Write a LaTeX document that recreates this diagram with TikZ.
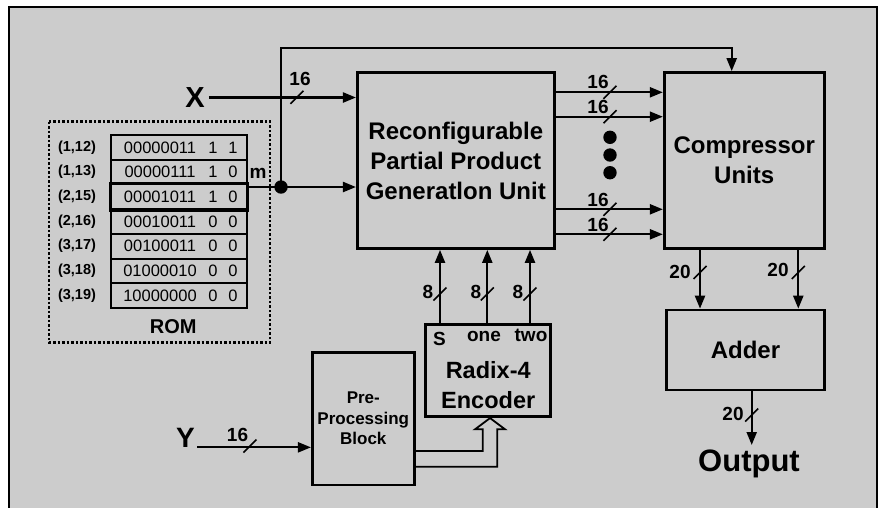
\documentclass[tikz,border=0pt]{standalone}
\usepackage{fontspec}
\setmainfont{Liberation Sans}
\usetikzlibrary{arrows.meta,calc}
\definecolor{bgray}{HTML}{CCCCCC}
\begin{document}
\begin{tikzpicture}[x=1pt,y=-1pt,
  wire/.style={line width=2.2pt},
  arr/.style={wire,-{Triangle[length=13pt,width=10pt]}},
  slashmark/.style={line width=1.6pt},
  box/.style={draw,line width=2.7pt,inner sep=0pt,align=center,
    font=\bfseries\fontsize{24}{30}\selectfont},
  buslbl/.style={inner sep=0pt,anchor=base,font=\bfseries\fontsize{19}{19}\selectfont},
  rowbox/.style={draw,line width=2pt,minimum width=136pt,minimum height=24.7pt,inner sep=0pt},
  rowlbl/.style={inner sep=0pt,font=\bfseries\fontsize{14.5}{14.5}\selectfont},
  bintxt/.style={inner sep=0pt,font=\fontsize{16.5}{16.5}\selectfont},
  bigdot/.style={circle,fill=black,inner sep=0pt,minimum size=13.4pt},
  hollow/.style={line width=1.8pt,line join=miter}
]
\useasboundingbox (0,0) rectangle (880,507);
\fill[white] (0,0) rectangle (880,507);
\draw[line width=2pt,fill=bgray] (9,7) rectangle (877,530);

% main blocks
\node[box,minimum width=197pt,minimum height=176pt] (ppgu) at (455.8,160.5)
  {Reconfigurable\\Partial Product\\Generatlon Unit};
\node[box,minimum width=160pt,minimum height=176pt] (comp) at (744.2,160.5)
  {Compressor\\Units};
\node[box,minimum width=157.6pt,minimum height=80pt] (adder) at (745.5,350) {Adder};
\node[box,minimum width=102pt,minimum height=132.7pt,
  font=\bfseries\fontsize{17}{20.5}\selectfont] (ppb) at (363.3,418.7)
  {Pre-\\Processing\\Block};
\node[box,minimum width=125pt,minimum height=92.4pt] (enc) at (488.2,370.5) {};
\node[inner sep=0pt,align=center,font=\bfseries\fontsize{23.5}{30}\selectfont]
  (enctxt) at (488.2,385.5) {Radix-4\\Encoder};
\node[inner sep=0pt,anchor=base,font=\bfseries\fontsize{19}{19}\selectfont] (sS) at (439.5,345) {S};
\node[inner sep=0pt,anchor=base,font=\bfseries\fontsize{19}{19}\selectfont] (sone) at (484,341.7) {one};
\node[inner sep=0pt,anchor=base,font=\bfseries\fontsize{19}{19}\selectfont] (stwo) at (531,341.7) {two};

% inputs / output labels
\node[inner sep=0pt,font=\bfseries\fontsize{29}{29}\selectfont] (X) at (195,97.5) {X};
\node[inner sep=0pt,font=\bfseries\fontsize{28}{28}\selectfont] (Y) at (185.5,437.5) {Y};
\node[inner sep=0pt,anchor=north,font=\bfseries\fontsize{31}{31}\selectfont] (out) at (749,450) {Output};

% ROM
\draw[line width=2.5pt,dash pattern=on 2.5pt off 2pt] (49,121.7) rectangle (270,342.7);
\foreach \i/\lab/\bin/\ba/\bb in {1/{(1,12)}/00000011/1/1, 2/{(1,13)}/00000111/1/0,
    3/{(2,15)}/00001011/1/0, 4/{(2,16)}/00010011/0/0, 5/{(3,17)}/00100011/0/0,
    6/{(3,18)}/01000010/0/0, 7/{(3,19)}/10000000/0/0}{
  \node[rowbox] (r\i) at (179,{135+24.7*(\i-0.5)}) {};
  \node[rowlbl] (l\i) at (77,{135+24.7*(\i-0.5)}) {\lab};
  \node[bintxt] (b\i) at (160,{135+24.7*(\i-0.5)}) {\bin};
  \node[bintxt] (ba\i) at (213,{135+24.7*(\i-0.5)}) {\ba};
  \node[bintxt] (bb\i) at (233,{135+24.7*(\i-0.5)}) {\bb};
}
\draw[line width=2.8pt] (r3.north west) rectangle (r3.south east);
\node[inner sep=0pt,anchor=base,font=\bfseries\fontsize{20}{20}\selectfont] (rom) at (173.3,333.3) {ROM};
\node[inner sep=0pt,anchor=base,font=\bfseries\fontsize{19}{19}\selectfont] (m) at (258,178.3) {m};

% junction and feed-forward
\coordinate (romout) at (247,187);
\node[bigdot] (dot) at (281,187) {};
\coordinate (bend) at (731.7,48.3);
\draw[wire] (romout) -- (dot.center);
\draw[arr] (dot.center) -- (dot -| ppgu.west);
\draw[arr] (dot.center) |- (bend) -- (bend |- comp.north);

% X input
\draw[arr] ([xshift=4pt]X.east) -- (X -| ppgu.west);
\draw[slashmark] (297,97.3) ++(-6.5,6.5) -- ++(13,-13);
\node[buslbl] (x16) at (300,85) {16};

% PPGU -> compressor
\foreach \yy/\by in {92.3/88.3, 116.7/113.3, 209.3/206.7, 234.3/231.7}{
  \draw[arr] (ppgu.east |- 0,\yy) -- (comp.west |- 0,\yy);
  \draw[slashmark] (610,\yy) ++(-6.5,6.5) -- ++(13,-13);
  \node[buslbl] at (598,\by) {16};
}
\node[bigdot] (d1) at (610,137.3) {};
\node[bigdot] (d2) at (610,155) {};
\node[bigdot] (d3) at (610,172.7) {};

% compressor -> adder
\foreach \xx/\lx/\by in {700/680/278.3, 798.3/778/276.7}{
  \draw[arr] (comp.south -| \xx,0) -- (adder.north -| \xx,0);
  \draw[slashmark] (\xx,272.5) ++(-6.5,6.5) -- ++(13,-13);
  \node[buslbl] at (\lx,\by) {20};
}

% adder -> output
\coordinate (outtip) at (751.7,445);
\draw[arr] (adder.south -| outtip) -- (outtip);
\draw[slashmark] (751.7,415) ++(-6.5,6.5) -- ++(13,-13);
\node[buslbl] (o20) at (733,420) {20};

% encoder -> PPGU
\foreach \xx/\lx in {440/428, 487.3/476, 530/518}{
  \draw[arr] (enc.north -| \xx,0) -- (ppgu.south -| \xx,0);
  \draw[slashmark] (\xx,294) ++(-6.5,6.5) -- ++(13,-13);
  \node[buslbl] at (\lx,298.3) {8};
}

% Y input
\draw[arr] ([xshift=2pt]Y.south east) -- (Y.south east -| ppb.west);
\draw[slashmark] (250,446) ++(-6.5,6.5) -- ++(13,-13);
\node[buslbl] (y16) at (237.5,441.7) {16};

% hollow arrow PPB -> encoder
\draw[hollow] (ppb.east |- 0,451) -| (482.7,429.3) -- (475,429.3) -- (enc.south -| 490,0)
  -- (505,429.3) -- (497.3,429.3) |- (ppb.east |- 0,466.7);
\end{tikzpicture}
\end{document}
